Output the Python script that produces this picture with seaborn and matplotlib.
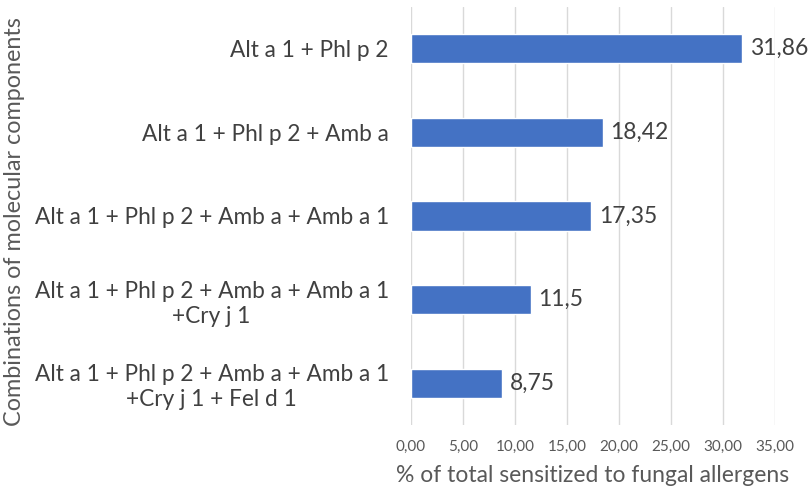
import matplotlib
matplotlib.use("Agg")
import matplotlib.pyplot as plt
import seaborn as sns
import pandas as pd

categories = [
    "Alt a 1 + Phl p 2",
    "Alt a 1 + Phl p 2 + Amb a",
    "Alt a 1 + Phl p 2 + Amb a + Amb a 1",
    "Alt a 1 + Phl p 2 + Amb a + Amb a 1\n+Cry j 1",
    "Alt a 1 + Phl p 2 + Amb a + Amb a 1\n+Cry j 1 + Fel d 1",
]
values = [31.86, 18.42, 17.35, 11.5, 8.75]
value_labels = ["31,86", "18,42", "17,35", "11,5", "8,75"]
xticks = [0, 5, 10, 15, 20, 25, 30, 35]
xtick_labels = ["0,00", "5,00", "10,00", "15,00", "20,00", "25,00", "30,00", "35,00"]

sns.set_theme(style="white")
plt.rcParams['font.family'] = ['Lato', 'DejaVu Sans']

df = pd.DataFrame({"cat": categories, "val": values})

fig = plt.figure(figsize=(8.1, 5.0), dpi=100)
ax = fig.add_axes([411/810, 1 - 425/500, (775-411)/810, (425-7)/500])

sns.barplot(data=df, x="val", y="cat", color="#4472C4", width=0.35,
            saturation=1, ax=ax, zorder=3)

ax.set_xlim(0, 35)
ax.set_xticks(xticks)
ax.set_xticklabels(xtick_labels, fontsize=11, color="#595959")
ax.tick_params(axis='x', length=0, pad=11)
ax.tick_params(axis='y', length=0, pad=16)
for lab in ax.get_yticklabels():
    lab.set_fontsize(16.3)
    lab.set_color("#404040")
    lab.set_multialignment("center")
    lab.set_linespacing(1.25)

ax.grid(axis='x', color="#D9D9D9", linewidth=1, zorder=0)
ax.grid(axis='y', visible=False)
for s in ax.spines.values():
    s.set_visible(False)

for i, (v, t) in enumerate(zip(values, value_labels)):
    ax.text(v + 0.75, i, t, va='center', ha='left', fontsize=16.5,
            color="#404040", clip_on=False)

ax.set_xlabel("% of total sensitized to fungal allergens", fontsize=16.5,
              color="#595959", labelpad=8)
ax.set_ylabel("")
fig.text(15/810, 1 - 222/500, "Combinations of molecular components",
         rotation=90, ha='center', va='center', fontsize=16.8, color="#595959")

fig.savefig("out.png", dpi=100)
